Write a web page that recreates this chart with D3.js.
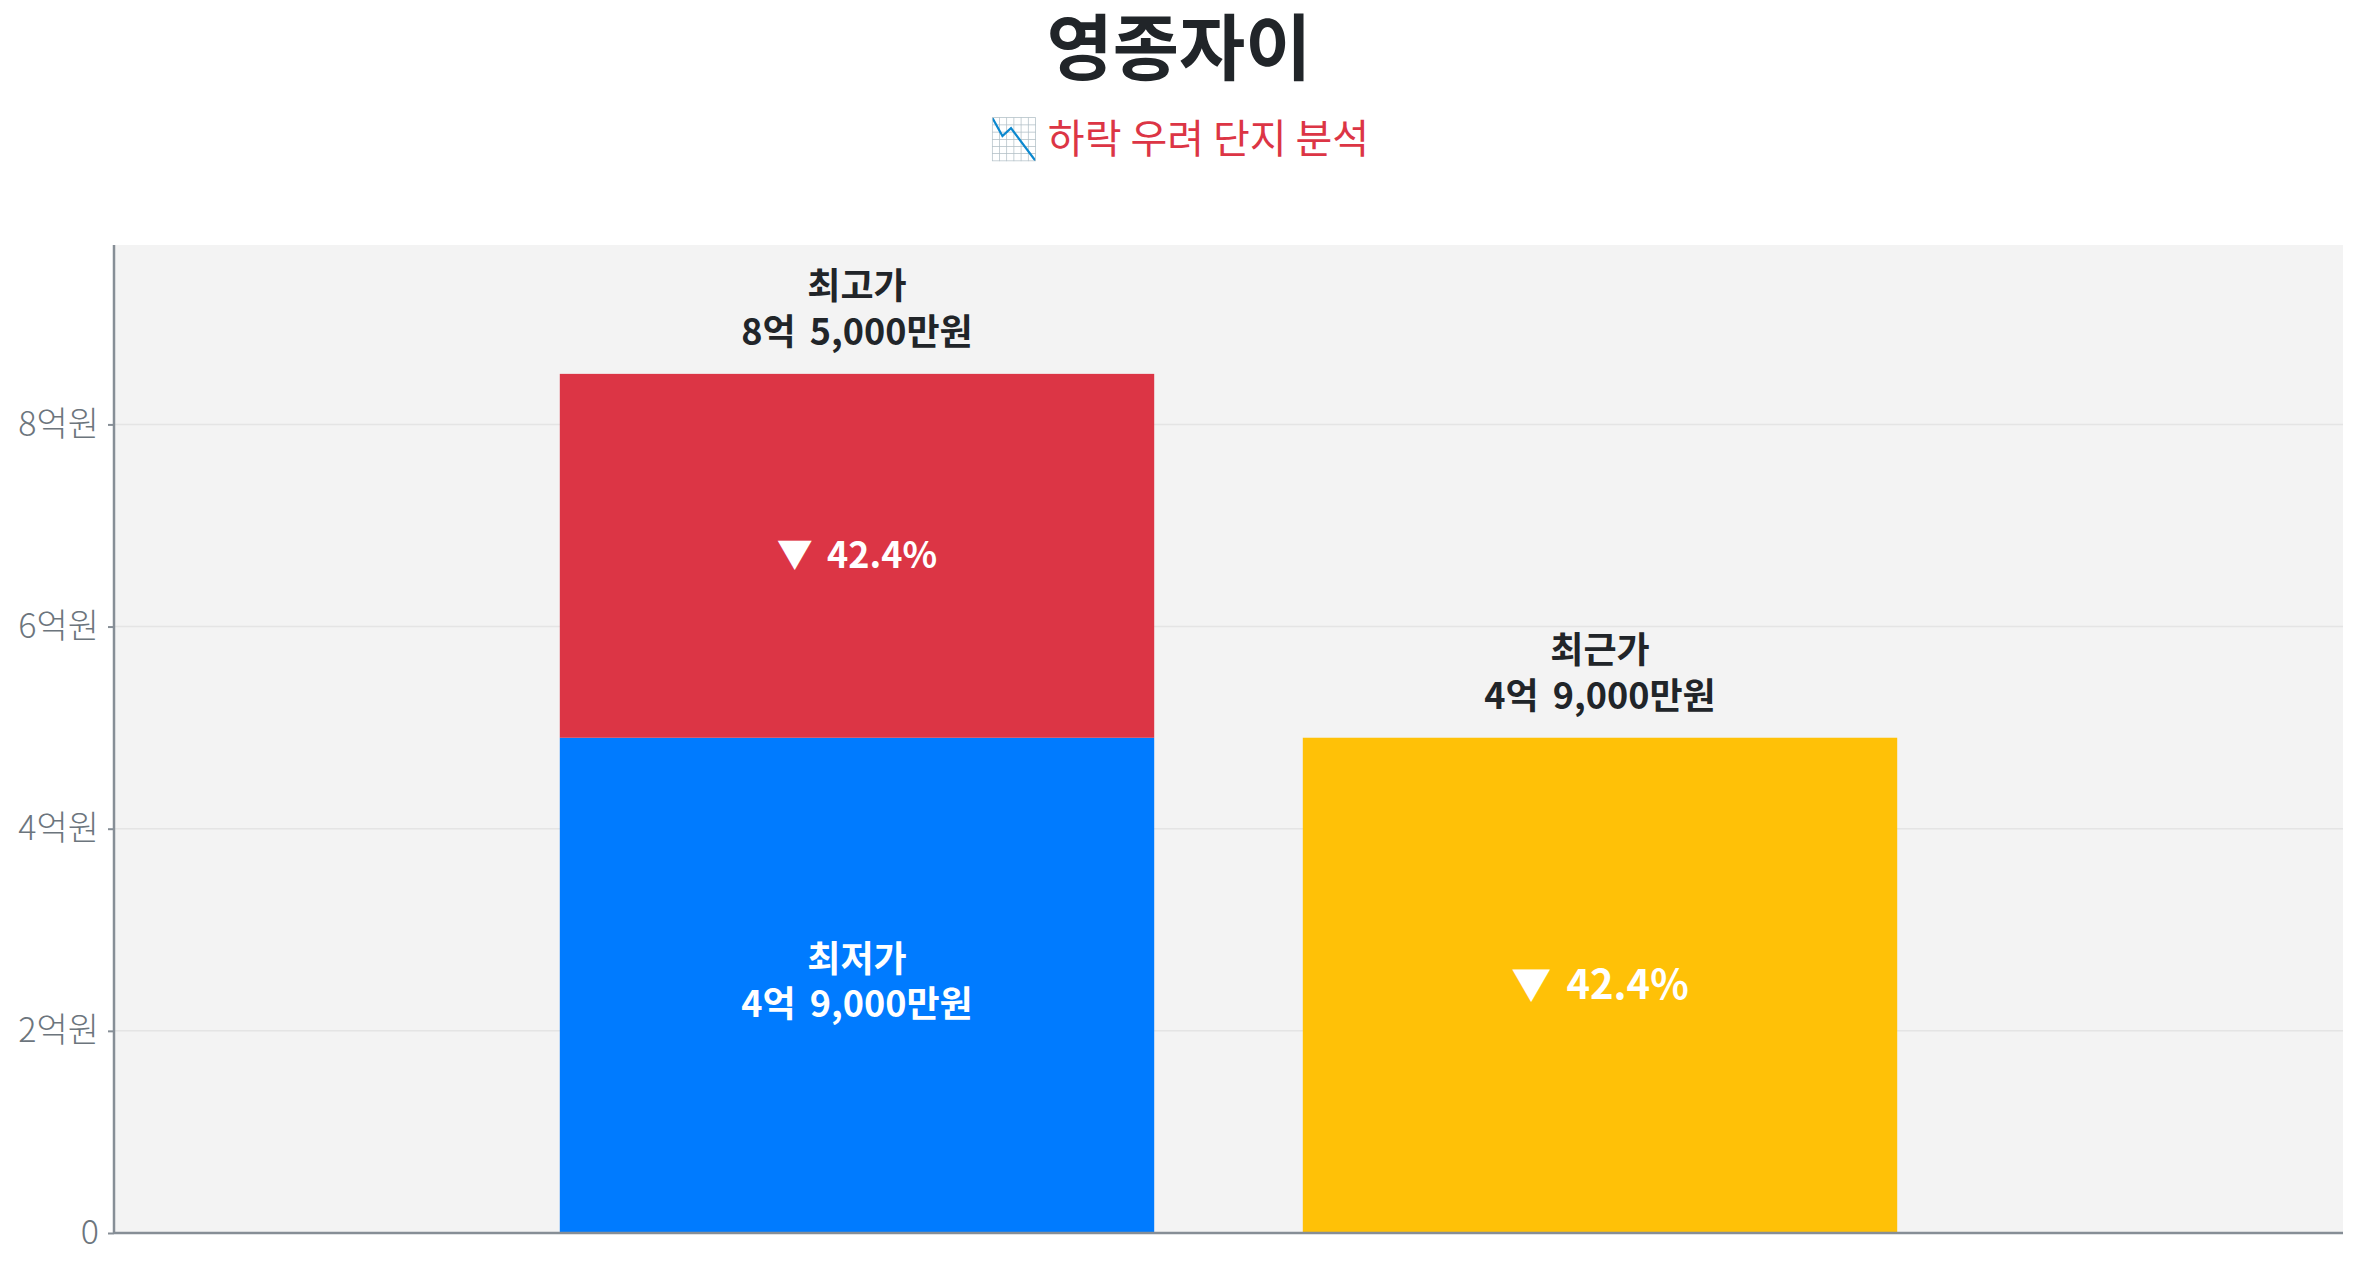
<!DOCTYPE html>
<html>
<head>
<meta charset="utf-8">
<script src="https://cdn.jsdelivr.net/npm/d3@7"></script>
<style>
  body { margin: 0; background: #ffffff; }
  svg { display: block; font-family: "Noto Sans CJK KR", "Noto Sans", sans-serif; }
</style>
</head>
<body>
<div id="chart"></div>
<script>
// Chart data (prices in 만원)
var complexName = "영종자이";
var subtitleText = "📉 하락 우려 단지 분석";
var barGroups = ["최고/최저", "최근"];
var priceNames = ["최고가", "최저가", "최근가"];
var priceValues = [85000, 49000, 49000];
var dropRates = [42.4, 42.4];
var yTickValues = [0, 2, 4, 6, 8];   // in 억
var barColors = ["#dc3545", "#007bff", "#ffc107"];

// Turn 만원 into "8억 5,000만원"
function formatPrice(v) {
  var eok = Math.floor(v / 10000);
  var man = v % 10000;
  var text = eok + "억";
  if (man > 0) text += " " + d3.format(",")(man) + "만원";
  return text;
}

function drawChart() {
  var width = 2358;
  var height = 1268;
  var marginTop = 245;
  var marginRight = 15;
  var marginBottom = 35;
  var marginLeft = 114;
  var chartWidth = width - marginLeft - marginRight;
  var chartHeight = height - marginTop - marginBottom;

  var svg = d3.select("#chart").append("svg")
    .attr("width", width)
    .attr("height", height);

  // Title and subtitle
  svg.append("text")
    .attr("x", width / 2)
    .attr("y", 42)
    .attr("font-size", "72px")
    .attr("font-weight", "bold")
    .attr("fill", "#212529")
    .attr("text-anchor", "middle")
    .attr("dominant-baseline", "central")
    .text(complexName);

  svg.append("text")
    .attr("x", width / 2)
    .attr("y", 136)
    .attr("font-size", "40px")
    .attr("fill", "#dc3545")
    .attr("text-anchor", "middle")
    .attr("dominant-baseline", "central")
    .text(subtitleText);

  var chart = svg.append("g")
    .attr("transform", "translate(" + marginLeft + "," + marginTop + ")");

  // Plot background
  chart.append("rect")
    .attr("width", chartWidth)
    .attr("height", chartHeight)
    .attr("fill", "#f3f3f3");

  // Scales
  var maxValue = d3.max(priceValues) / 10000 * 1.15;
  var yScale = d3.scaleLinear()
    .domain([0, maxValue])
    .range([chartHeight, 0]);

  var xScale = d3.scaleBand()
    .domain(barGroups)
    .range([0, chartWidth])
    .paddingInner(0.2)
    .paddingOuter(0.6);

  // Grid lines
  chart.append("g")
    .selectAll("line")
    .data(yTickValues.filter(function(d) { return d > 0; }))
    .enter().append("line")
    .attr("x1", 0)
    .attr("x2", chartWidth)
    .attr("y1", function(d) { return yScale(d); })
    .attr("y2", function(d) { return yScale(d); })
    .attr("stroke", "#e4e4e4")
    .attr("stroke-width", 1.5);

  // Bars: 최고가 stack (blue bottom, red top) and 최근가
  var b = xScale.bandwidth();
  var x1 = xScale(barGroups[0]);
  var x2 = xScale(barGroups[1]);
  var high = priceValues[0] / 10000;
  var low = priceValues[1] / 10000;
  var recent = priceValues[2] / 10000;

  var segments = [
    { x: x1, y0: 0, y1: low, color: barColors[1] },
    { x: x1, y0: low, y1: high, color: barColors[0] },
    { x: x2, y0: 0, y1: recent, color: barColors[2] }
  ];

  chart.selectAll("rect.bar")
    .data(segments)
    .enter().append("rect")
    .attr("class", "bar")
    .attr("x", function(d) { return d.x; })
    .attr("y", function(d) { return yScale(d.y1); })
    .attr("width", b)
    .attr("height", function(d) { return yScale(d.y0) - yScale(d.y1); })
    .attr("fill", function(d) { return d.color; });

  // Axes
  var yAxisGroup = chart.append("g")
    .call(d3.axisLeft(yScale)
      .tickValues(yTickValues)
      .tickSize(6)
      .tickPadding(9)
      .tickFormat(function(d) { return d === 0 ? "0" : d + "억원"; }));
  yAxisGroup.select(".domain")
    .attr("stroke", "#868e96")
    .attr("stroke-width", 2.5)
    .attr("d", "M0," + chartHeight + "V0");
  yAxisGroup.selectAll(".tick line").attr("stroke", "#868e96").attr("stroke-width", 2);
  yAxisGroup.selectAll(".tick text")
    .attr("font-size", "34px")
    .attr("font-family", "\"Noto Sans CJK KR\", sans-serif")
    .attr("font-weight", 300)
    .attr("fill", "#6c757d");

  chart.append("line")
    .attr("x1", 0)
    .attr("x2", chartWidth)
    .attr("y1", chartHeight)
    .attr("y2", chartHeight)
    .attr("stroke", "#868e96")
    .attr("stroke-width", 2.5);

  // Two-line label helper
  function twoLines(g, cx, cy, first, second, size, color, gap1, gap2) {
    g.append("text")
      .attr("x", cx).attr("y", cy + gap1)
      .attr("font-size", size).attr("font-weight", "bold")
      .attr("fill", color).attr("text-anchor", "middle")
      .attr("dominant-baseline", "central")
      .text(first);
    g.append("text")
      .attr("x", cx).attr("y", cy + gap2)
      .attr("font-size", size).attr("font-weight", "bold")
      .attr("fill", color).attr("text-anchor", "middle")
      .attr("dominant-baseline", "central")
      .attr("word-spacing", "6px")
      .text(second);
  }

  var labels = chart.append("g");
  twoLines(labels, x1 + b / 2, yScale(high), priceNames[0], formatPrice(priceValues[0]), "36px", "#212529", -91, -45);
  twoLines(labels, x2 + b / 2, yScale(recent), priceNames[2], formatPrice(priceValues[2]), "36px", "#212529", -91, -45);
  twoLines(labels, x1 + b / 2, (yScale(0) + yScale(low)) / 2, priceNames[1], formatPrice(priceValues[1]), "36px", "#ffffff", -29, 16);

  // Drop rate labels inside bars
  labels.append("text")
    .attr("x", x1 + b / 2)
    .attr("y", (yScale(low) + yScale(high)) / 2 - 4)
    .attr("font-size", "36px").attr("font-weight", "bold")
    .attr("fill", "#ffffff").attr("text-anchor", "middle")
    .attr("dominant-baseline", "central")
    .attr("word-spacing", "6px")
    .text("▼ " + dropRates[0] + "%");

  labels.append("text")
    .attr("x", x2 + b / 2)
    .attr("y", (yScale(0) + yScale(recent)) / 2 - 3)
    .attr("font-size", "40px").attr("font-weight", "bold")
    .attr("fill", "#ffffff").attr("text-anchor", "middle")
    .attr("dominant-baseline", "central")
    .attr("word-spacing", "6px")
    .text("▼ " + dropRates[1] + "%");
}

drawChart();
</script>
</body>
</html>
